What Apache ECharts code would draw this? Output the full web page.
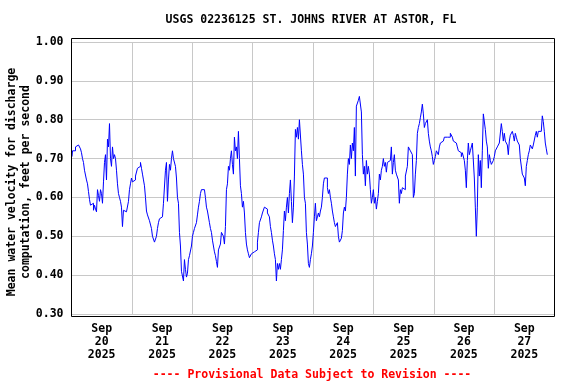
<!DOCTYPE html>
<html><head><meta charset="utf-8">
<script src="https://cdn.jsdelivr.net/npm/echarts@6/dist/echarts.min.js"></script>
<style>html,body{margin:0;padding:0;background:#fff}#c{width:576px;height:384px}</style>
</head><body><div id="c"></div>
<script>
const chartTitle = 'USGS 02236125 ST. JOHNS RIVER AT ASTOR, FL';
const yTitleLine1 = 'Mean water velocity for discharge';
const yTitleLine2 = 'computation, feet per second';
const footer = '---- Provisional Data Subject to Revision ----';
const dayLabels = ['Sep\n20\n2025','Sep\n21\n2025','Sep\n22\n2025','Sep\n23\n2025','Sep\n24\n2025','Sep\n25\n2025','Sep\n26\n2025','Sep\n27\n2025'];
const yMin = 0.3, yMax = 1.0, yStep = 0.1;
// hours since Sep 20 00:00 of first reading, and spacing of readings (hours)
const firstHour = 0.2;
const stepHours = 24 / 60.4;

// Mean water velocity readings (ft/s), in time order
const velSep20 = [0.705,0.72,0.715,0.72,0.73,0.735,0.735,0.735,0.73,0.725,
0.715,0.70,0.69,0.67,0.67,0.645,0.635,0.615,0.595,0.58,
0.575,0.585,0.567,0.58,0.57,0.563,0.62,0.605,0.59,0.62,
0.61,0.585,0.64,0.69,0.71,0.645,0.75,0.73,0.79,0.70,
0.68,0.73,0.70,0.71,0.70,0.67,0.635,0.61,0.60,0.59,
0.575,0.525,0.567,0.563,0.563,0.563,0.563,0.59,0.62,0.635,
0.65,0.64,0.645,0.645,0.655,0.66,0.675,0.68,0.68,0.69,
0.675,0.66,0.645,0.63,0.60,0.565,0.555,0.55,0.54,0.535,
0.52,0.50,0.495,0.485,0.49,0.50,0.52,0.535,0.545,0.55,
0.55,0.55,0.585];
const velSep21 = [0.59,0.67,0.69,0.59,0.645,0.685,0.67,0.70,0.72,0.70,
0.70,0.68,0.65,0.60,0.585,0.51,0.475,0.41,0.405,0.385,
0.44,0.415,0.395,0.405,0.44,0.45,0.445,0.475,0.50,0.51,
0.52,0.525,0.535,0.555,0.575,0.59,0.61,0.62,0.615,0.62,
0.62,0.60,0.575,0.565,0.56,0.535,0.52,0.51,0.49,0.475,
0.46,0.45,0.435,0.42,0.465,0.46,0.48,0.51,0.515,0.50,
0.48,0.525,0.62,0.635,0.68,0.67,0.70,0.72,0.685,0.66,
0.755,0.72,0.73,0.70,0.77,0.70,0.63,0.61,0.575,0.59,
0.56,0.51,0.48,0.465,0.455,0.445,0.45,0.455,0.46,0.46,
0.46,0.455,0.465,0.485,0.51];
const velSep22 = [0.535,0.54,0.55,0.56,0.565,0.575,0.58,0.57,0.56,0.565,
0.55,0.525,0.51,0.49,0.475,0.455,0.44,0.385,0.43,0.415,
0.43,0.415,0.44,0.465,0.515,0.565,0.54,0.575,0.60,0.56,
0.61,0.645,0.59,0.535,0.575,0.655,0.775,0.755,0.78,0.75,
0.80,0.80,0.72,0.685,0.66,0.60,0.585,0.51,0.48,0.43,
0.42,0.44,0.455,0.475,0.51,0.55,0.585,0.54,0.55,0.56,
0.55,0.565,0.575,0.60,0.635,0.65,0.645,0.65,0.625,0.61,
0.62,0.60,0.585,0.565,0.55,0.535,0.525,0.53,0.535,0.50,
0.485,0.49,0.495,0.515,0.56,0.575,0.565,0.60,0.66,0.70,
0.685,0.735,0.70,0.74,0.72];
const velSep24 = [0.78,0.655,0.835,0.84,0.85,0.86,0.86,0.82,0.71,0.66,
0.68,0.63,0.695,0.66,0.68,0.66,0.62,0.585,0.60,0.62,
0.585,0.60,0.57,0.59,0.61,0.66,0.645,0.67,0.68,0.70,
0.68,0.69,0.665,0.69,0.695,0.695,0.70,0.73,0.66,0.69,
0.71,0.67,0.66,0.655,0.645,0.585,0.62,0.61,0.625,0.63,
0.62,0.655,0.66,0.68,0.73,0.725,0.72,0.72,0.71,0.60,
0.61,0.66,0.695,0.765,0.78,0.79,0.805,0.82,0.84,0.815,
0.78,0.79,0.795,0.80,0.765,0.745,0.73,0.72,0.705,0.685,
0.695,0.705,0.72,0.72,0.71,0.73,0.74,0.745,0.745,0.75,
0.755,0.75,0.755,0.755,0.76];
const velSep26 = [0.755,0.765,0.76,0.755,0.745,0.745,0.74,0.745,0.73,0.72,
0.725,0.715,0.705,0.715,0.71,0.695,0.67,0.625,0.695,0.74,
0.71,0.72,0.72,0.74,0.735,0.65,0.575,0.50,0.575,0.71,
0.655,0.695,0.625,0.72,0.815,0.81,0.775,0.745,0.73,0.675,
0.71,0.695,0.685,0.68,0.695,0.705,0.72,0.72,0.73,0.735,
0.74,0.745,0.79,0.77,0.745,0.765,0.745,0.74,0.735,0.71,
0.745,0.76,0.755,0.77,0.76,0.745,0.765,0.755,0.745,0.74,
0.735,0.70,0.70,0.66,0.66,0.65,0.63,0.68,0.695,0.71,
0.72,0.735,0.73,0.725,0.735,0.74,0.76,0.77,0.755,0.77,
0.765,0.77,0.77,0.81,0.795,0.77,0.74,0.725,0.71];

const velocities = [].concat(velSep20, velSep21, velSep22, velSep24, velSep26);
const seriesData = velocities.map((v, i) => [firstHour + i * stepHours, v]);

const FONT = '"DejaVu Sans Mono", "Liberation Mono", monospace';
const chart = echarts.init(document.getElementById('c'), null, {renderer: 'canvas'});
chart.setOption({
  animation: false,
  backgroundColor: '#ffffff',
  grid: {left: 71.5, right: 21.5, top: 42, bottom: 70, containLabel: false},
  xAxis: [{
    type: 'value', min: 0, max: 192, interval: 24,
    axisLine: {show: false}, axisTick: {show: false}, axisLabel: {show: false},
    splitLine: {show: true, lineStyle: {color: '#c8c8c8', width: 1}}
  }, {
    type: 'category', data: dayLabels, boundaryGap: true, position: 'bottom',
    axisLine: {show: false}, axisTick: {show: false}, splitLine: {show: false},
    axisLabel: {color: '#000', fontFamily: FONT, fontWeight: 'bold', fontSize: 11.5, lineHeight: 13, margin: 9, interval: 0}
  }],
  yAxis: {
    type: 'value', min: yMin, max: yMax, interval: yStep,
    axisLine: {show: false}, axisTick: {show: false},
    axisLabel: {color: '#000', fontFamily: FONT, fontWeight: 'bold', fontSize: 11.5, margin: 8,
      formatter: v => v.toFixed(2)},
    splitLine: {show: true, lineStyle: {color: '#c8c8c8', width: 1}}
  },
  series: [{
    type: 'line', xAxisIndex: 0, data: seriesData, showSymbol: false, symbol: 'none', step: 'middle',
    lineStyle: {color: '#0000ff', width: 1}, itemStyle: {color: '#0000ff'}
  }],
  graphic: [
    {type: 'rect', shape: {x: 71.5, y: 38.5, width: 483, height: 278}, silent: true, z: 100,
      style: {fill: 'none', stroke: '#000', lineWidth: 1}},
    {type: 'text', x: 311, y: 20, style: {text: chartTitle, font: 'bold 11.5px ' + FONT, fill: '#000', align: 'center', verticalAlign: 'middle', textAlign: 'center', textVerticalAlign: 'middle'}},
    {type: 'text', x: 12, y: 182, rotation: Math.PI / 2, style: {text: yTitleLine1, font: 'bold 11.5px ' + FONT, fill: '#000', align: 'center', verticalAlign: 'middle', textAlign: 'center', textVerticalAlign: 'middle'}},
    {type: 'text', x: 26, y: 182, rotation: Math.PI / 2, style: {text: yTitleLine2, font: 'bold 11.5px ' + FONT, fill: '#000', align: 'center', verticalAlign: 'middle', textAlign: 'center', textVerticalAlign: 'middle'}},
    {type: 'text', x: 312, y: 375, style: {text: footer, font: 'bold 11.5px ' + FONT, fill: '#ff0000', align: 'center', verticalAlign: 'middle', textAlign: 'center', textVerticalAlign: 'middle'}}
  ]
});
</script></body></html>
